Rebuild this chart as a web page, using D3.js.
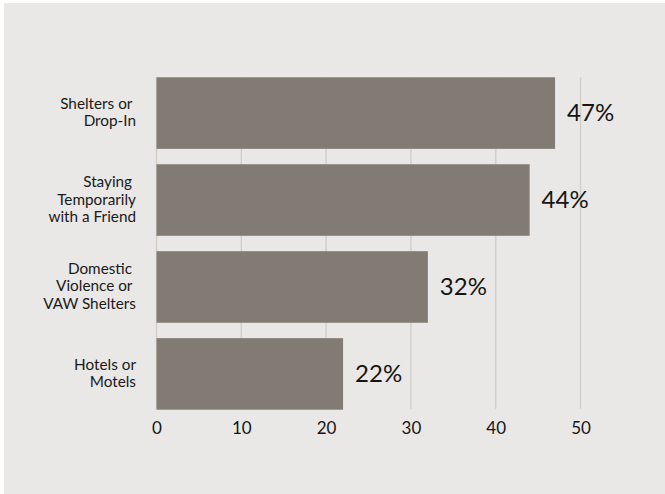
<!DOCTYPE html>
<html>
<head>
<meta charset="utf-8">
<script src="https://cdn.jsdelivr.net/npm/d3@7"></script>
<style>
  body { margin: 0; background: #ffffff; }
  svg { display: block; font-family: Lato, "Noto Sans", sans-serif; }
  text { white-space: pre; }
</style>
</head>
<body>
<svg></svg>
<script>
const size = {w: 665, h: 494};

// data
const categories = [
    ['Shelters or ', 'Drop-In'],
    ['Staying ', 'Temporarily', 'with a Friend'],
    ['Domestic ', 'Violence or ', 'VAW Shelters'],
    ['Hotels or', 'Motels']
];
const values = [47, 44, 32, 22];
const valueLabels = ['47%', '44%', '32%', '22%'];
const ticks = [0, 10, 20, 30, 40, 50];

const svg = d3.select('svg')
    .attr('width', size.w)
    .attr('height', size.h);

// panel background
svg.append('rect')
    .attr('x', 4).attr('y', 3)
    .attr('width', size.w - 4).attr('height', size.h - 3)
    .attr('fill', '#e9e8e6');

const x = d3.scaleLinear()
    .domain([0, 50])
    .range([156.5, 580.5]);

const y = d3.scaleBand()
    .domain(d3.range(values.length))
    .range([77.3, 409.7])
    .paddingInner(0.177)
    .paddingOuter(0);

// gridlines
svg.append('g').classed('grid', true)
    .selectAll('line')
    .data(ticks)
    .join('line')
    .attr('x1', d => x(d)).attr('x2', d => x(d))
    .attr('y1', y.range()[0]).attr('y2', y.range()[1] - 1)
    .attr('stroke', '#d2d0cd')
    .attr('stroke-width', 1.5);

// bars
svg.append('g').classed('bars', true)
    .selectAll('rect')
    .data(values)
    .join('rect')
    .attr('x', x(0))
    .attr('y', (d, i) => y(i))
    .attr('width', d => x(d) - x(0))
    .attr('height', y.bandwidth())
    .attr('fill', '#827b73');

// value labels
svg.append('g').classed('values', true)
    .selectAll('text')
    .data(values)
    .join('text')
    .attr('x', d => x(d) + 12)
    .attr('y', (d, i) => y(i) + y.bandwidth() / 2)
    .attr('dy', '0.35em')
    .attr('font-size', 24)
    .attr('fill', '#151515')
    .text((d, i) => valueLabels[i]);

// category labels, multi-line
const lineH = 17.7;
const catG = svg.append('g').classed('categories', true)
    .selectAll('text')
    .data(categories)
    .join('text')
    .attr('text-anchor', 'end')
    .attr('font-size', 15.3)
    .attr('fill', '#1a1a1a')
    .attr('y', (d, i) => y(i) + y.bandwidth() / 2 - 1);

catG.selectAll('tspan')
    .data(d => d.map((t, j) => ({t, j, n: d.length})))
    .join('tspan')
    .attr('x', 136)
    .attr('dy', d => d.j === 0 ? ((-(d.n - 1) / 2) * lineH + 5.5) + 'px' : lineH + 'px')
    .text(d => d.t);

// x axis tick labels
const xAxis = d3.axisBottom(x)
    .tickValues(ticks)
    .tickSize(0)
    .tickPadding(0);

svg.append('g')
    .attr('transform', 'translate(0,' + 422 + ')')
    .call(xAxis)
    .call(g => g.select('.domain').remove())
    .call(g => g.selectAll('text')
        .attr('font-size', 17)
        .attr('font-family', 'Lato, "Noto Sans", sans-serif')
        .attr('fill', '#151515'));
</script>
</body>
</html>
